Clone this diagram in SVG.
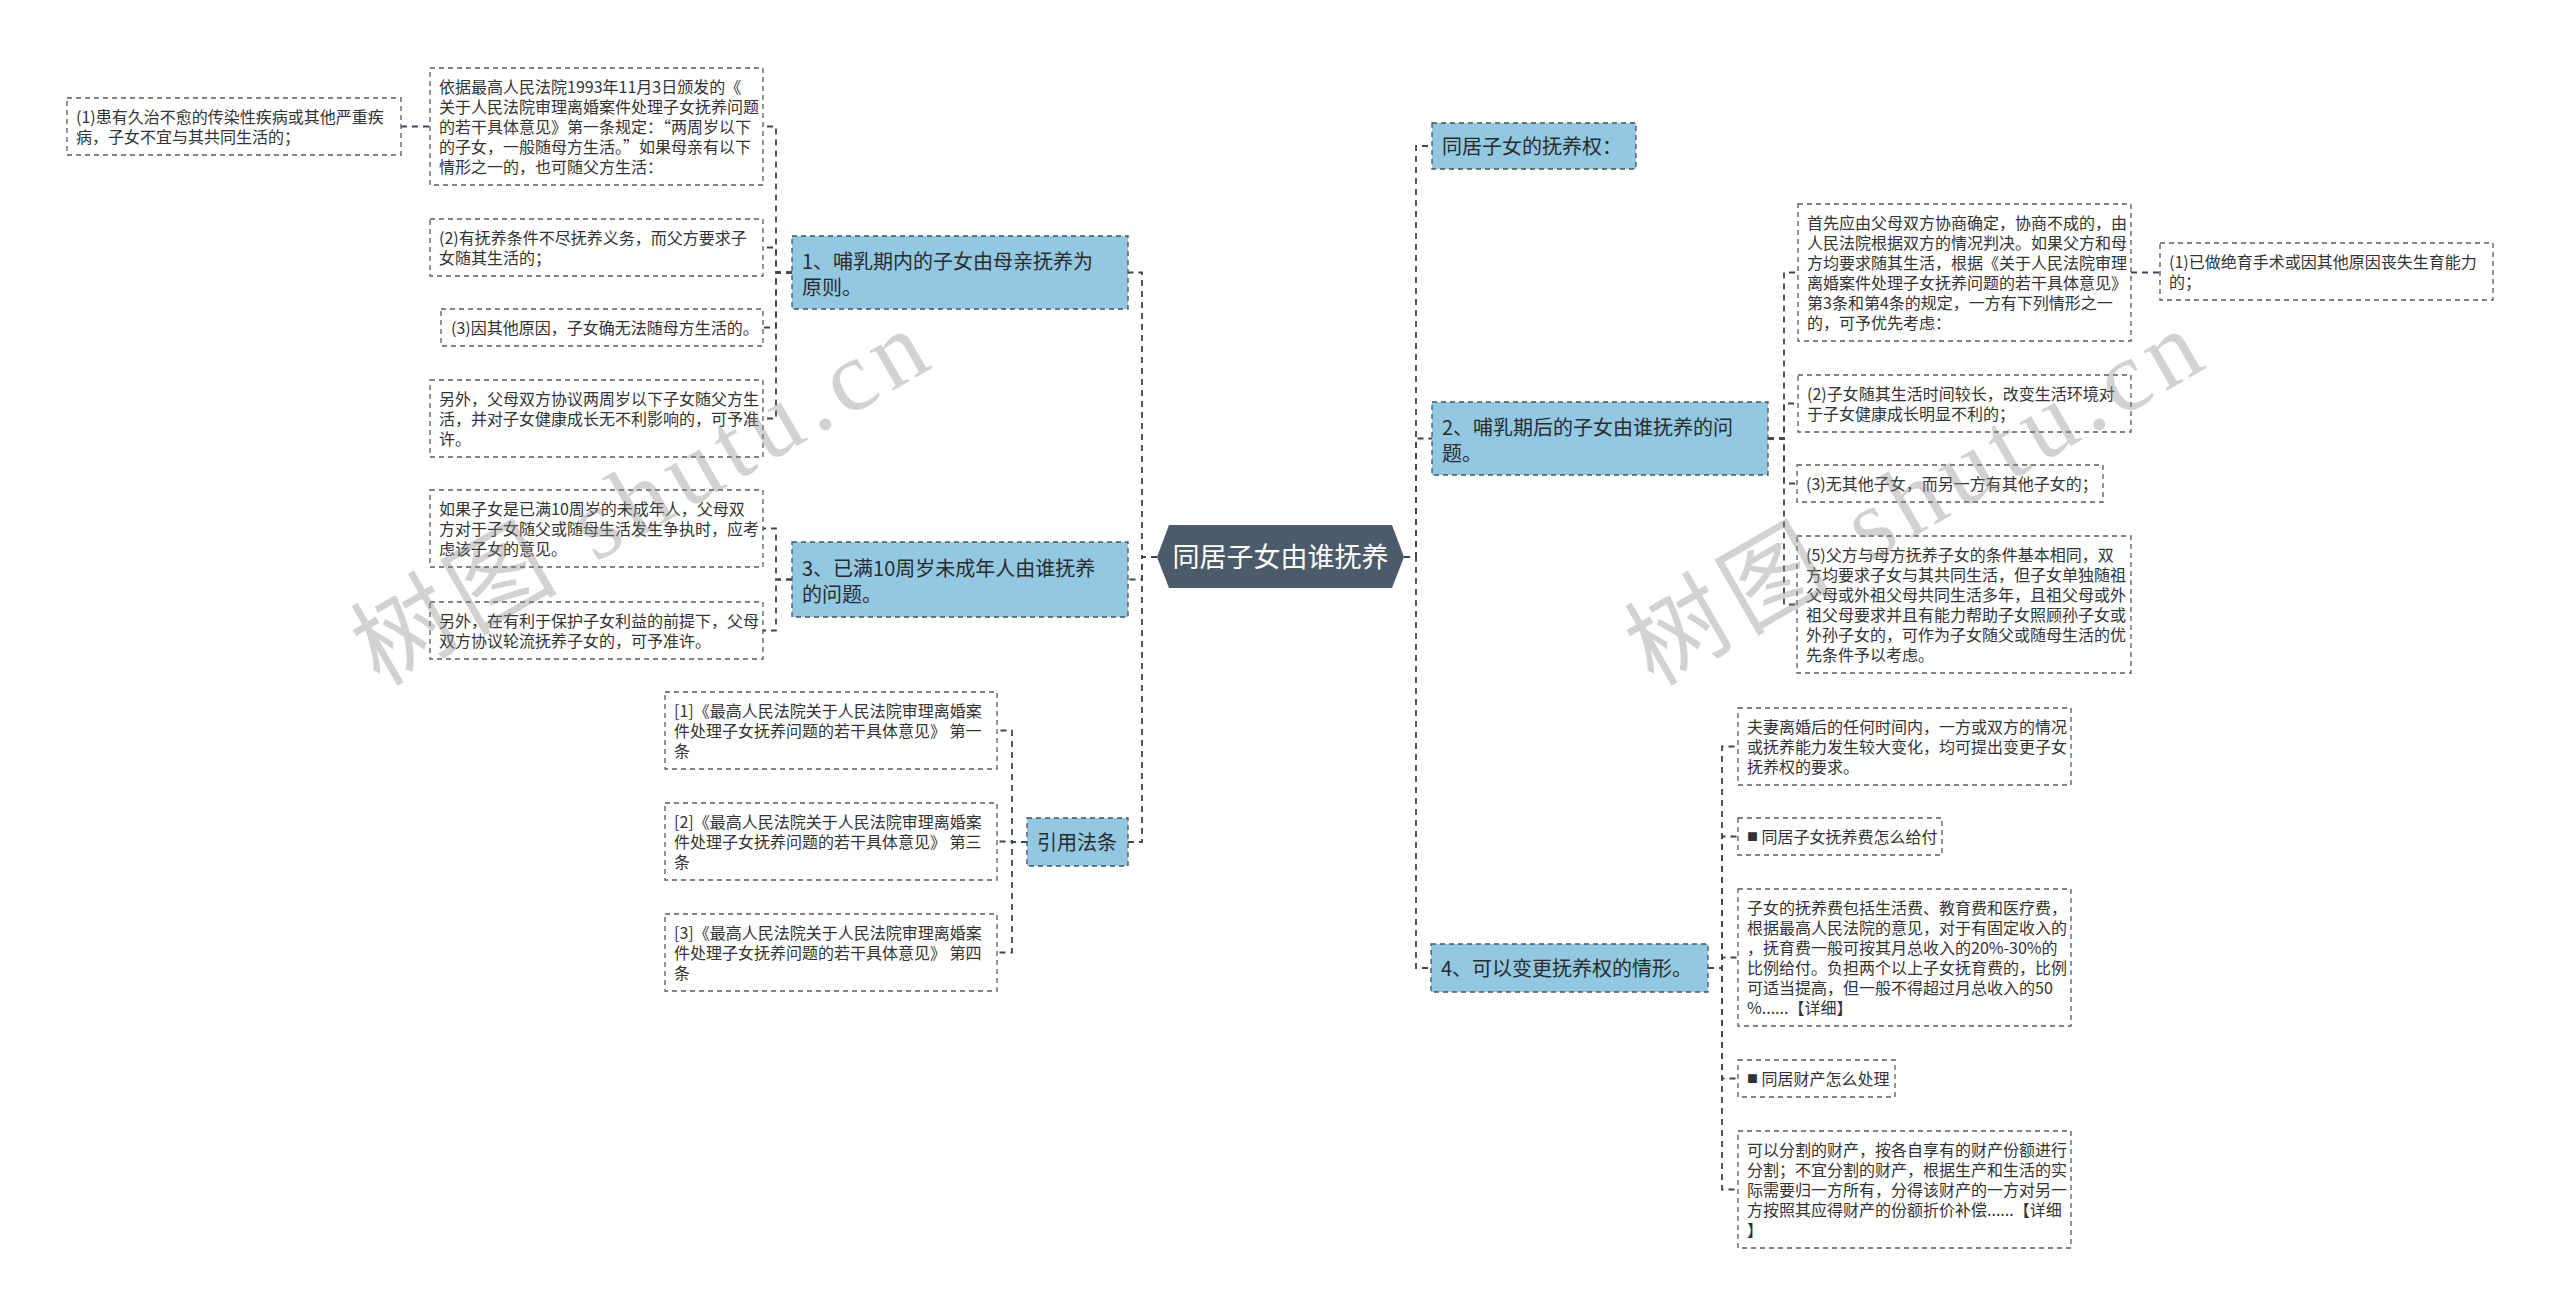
<svg xmlns="http://www.w3.org/2000/svg" width="2560" height="1316" viewBox="0 0 2560 1316">
<style>
.bg{fill:#ffffff}
.box{fill:#ffffff;stroke:#555b61;stroke-width:1.3;stroke-dasharray:5 4}
.main{fill:#92c8e2;stroke:#46525d;stroke-width:1.3;stroke-dasharray:5 4}
.root{fill:#4c5b69}
.t{font-family:"Noto Sans CJK SC","Liberation Sans",sans-serif;font-size:16px;fill:#333333}
.tm{font-family:"Noto Sans CJK SC","Liberation Sans",sans-serif;font-size:20px;fill:#2b2b2b}
.tr{font-family:"Noto Sans CJK SC","Liberation Sans",sans-serif;font-size:27px;fill:#ffffff}
.link{fill:none;stroke:#3d4752;stroke-width:1.8;stroke-dasharray:6 5}
.wm{font-family:"Liberation Serif","Noto Sans CJK SC",serif;font-size:100px;fill:#8a8a8a;opacity:0.38}
</style>
<rect class="bg" x="0" y="0" width="2560" height="1316"/>

<g id="connectors">
<path class="link" d="M1157 557 H1142 V272.5 H1128"/>
<path class="link" d="M1157 557 H1142 V579.5 H1128"/>
<path class="link" d="M1157 557 H1142 V842 H1128"/>
<path class="link" d="M1404 557 H1416 V146 H1432"/>
<path class="link" d="M1404 557 H1416 V438.5 H1432"/>
<path class="link" d="M1404 557 H1416 V968 H1431"/>
<path class="link" d="M792 272.5 H776 V126.5 H763"/>
<path class="link" d="M792 272.5 H776 V247.5 H763"/>
<path class="link" d="M792 272.5 H776 V327.5 H763"/>
<path class="link" d="M792 272.5 H776 V418.5 H763"/>
<path class="link" d="M429 126.5 H401"/>
<path class="link" d="M792 579.5 H776 V528.5 H763"/>
<path class="link" d="M792 579.5 H776 V630.5 H763"/>
<path class="link" d="M1027 842 H1012 V730.5 H997"/>
<path class="link" d="M1027 842 H1012 V841.5 H997"/>
<path class="link" d="M1027 842 H1012 V952.5 H997"/>
<path class="link" d="M1768 438.5 H1784 V272.5 H1798"/>
<path class="link" d="M1768 438.5 H1784 V403.5 H1798"/>
<path class="link" d="M1768 438.5 H1784 V483.5 H1797"/>
<path class="link" d="M1768 438.5 H1784 V604.5 H1797"/>
<path class="link" d="M2131 272.5 H2160"/>
<path class="link" d="M1708 968 H1722 V746.5 H1738"/>
<path class="link" d="M1708 968 H1722 V836.5 H1738"/>
<path class="link" d="M1708 968 H1722 V957.5 H1738"/>
<path class="link" d="M1708 968 H1722 V1078.5 H1738"/>
<path class="link" d="M1708 968 H1722 V1189.5 H1738"/>
</g>

<g id="root">
<polygon class="root" points="1157,557 1169,525 1392,525 1404,557 1392,588 1169,588"/>
<text class="tr" x="1280.5" y="566.5" text-anchor="middle">同居子女由谁抚养</text>
</g>

<g id="n1">
<rect class="main" x="792" y="236" width="336" height="73"/>
<text class="tm" x="802"><tspan x="802" y="269">1、哺乳期内的子女由母亲抚养为</tspan><tspan x="802" y="295">原则。</tspan></text>
</g>
<g id="n1a">
<rect class="box" x="430" y="68" width="333" height="117"/>
<text class="t"><tspan x="439" y="93">依据最高人民法院1993年11月3日颁发的《</tspan><tspan x="439" y="113">关于人民法院审理离婚案件处理子女抚养问题</tspan><tspan x="439" y="133">的若干具体意见》第一条规定：“两周岁以下</tspan><tspan x="439" y="153">的子女，一般随母方生活。”如果母亲有以下</tspan><tspan x="439" y="173">情形之一的，也可随父方生活：</tspan></text>
</g>
<g id="n1a1">
<rect class="box" x="67" y="98" width="334" height="57"/>
<text class="t"><tspan x="76" y="123">(1)患有久治不愈的传染性疾病或其他严重疾</tspan><tspan x="76" y="143">病，子女不宜与其共同生活的；</tspan></text>
</g>
<g id="n1b">
<rect class="box" x="430" y="219" width="333" height="57"/>
<text class="t"><tspan x="439" y="244">(2)有抚养条件不尽抚养义务，而父方要求子</tspan><tspan x="439" y="264">女随其生活的；</tspan></text>
</g>
<g id="n1c">
<rect class="box" x="441" y="309" width="322" height="37"/>
<text class="t" x="451" y="334">(3)因其他原因，子女确无法随母方生活的。</text>
</g>
<g id="n1d">
<rect class="box" x="430" y="380" width="333" height="77"/>
<text class="t"><tspan x="439" y="405">另外，父母双方协议两周岁以下子女随父方生</tspan><tspan x="439" y="425">活，并对子女健康成长无不利影响的，可予准</tspan><tspan x="439" y="445">许。</tspan></text>
</g>

<g id="n3">
<rect class="main" x="792" y="542" width="336" height="75"/>
<text class="tm"><tspan x="802" y="576">3、已满10周岁未成年人由谁抚养</tspan><tspan x="802" y="602">的问题。</tspan></text>
</g>
<g id="n3a">
<rect class="box" x="430" y="490" width="333" height="77"/>
<text class="t"><tspan x="439" y="515">如果子女是已满10周岁的未成年人，父母双</tspan><tspan x="439" y="535">方对于子女随父或随母生活发生争执时，应考</tspan><tspan x="439" y="555">虑该子女的意见。</tspan></text>
</g>
<g id="n3b">
<rect class="box" x="430" y="602" width="333" height="57"/>
<text class="t"><tspan x="439" y="627">另外，在有利于保护子女利益的前提下，父母</tspan><tspan x="439" y="647">双方协议轮流抚养子女的，可予准许。</tspan></text>
</g>

<g id="ref">
<rect class="main" x="1027" y="818" width="101" height="48"/>
<text class="tm" x="1037" y="850">引用法条</text>
</g>
<g id="ref1">
<rect class="box" x="665" y="692" width="332" height="77"/>
<text class="t"><tspan x="674" y="717">[1]《最高人民法院关于人民法院审理离婚案</tspan><tspan x="674" y="737">件处理子女抚养问题的若干具体意见》 第一</tspan><tspan x="674" y="757">条</tspan></text>
</g>
<g id="ref2">
<rect class="box" x="665" y="803" width="332" height="77"/>
<text class="t"><tspan x="674" y="828">[2]《最高人民法院关于人民法院审理离婚案</tspan><tspan x="674" y="848">件处理子女抚养问题的若干具体意见》 第三</tspan><tspan x="674" y="868">条</tspan></text>
</g>
<g id="ref3">
<rect class="box" x="665" y="914" width="332" height="77"/>
<text class="t"><tspan x="674" y="939">[3]《最高人民法院关于人民法院审理离婚案</tspan><tspan x="674" y="959">件处理子女抚养问题的若干具体意见》 第四</tspan><tspan x="674" y="979">条</tspan></text>
</g>

<g id="n0">
<rect class="main" x="1432" y="123" width="204" height="46"/>
<text class="tm" x="1442" y="154">同居子女的抚养权：</text>
</g>

<g id="n2">
<rect class="main" x="1432" y="402" width="336" height="73"/>
<text class="tm"><tspan x="1442" y="435">2、哺乳期后的子女由谁抚养的问</tspan><tspan x="1442" y="461">题。</tspan></text>
</g>
<g id="n2a">
<rect class="box" x="1798" y="204" width="333" height="137"/>
<text class="t"><tspan x="1807" y="229">首先应由父母双方协商确定，协商不成的，由</tspan><tspan x="1807" y="249">人民法院根据双方的情况判决。如果父方和母</tspan><tspan x="1807" y="269">方均要求随其生活，根据《关于人民法院审理</tspan><tspan x="1807" y="289">离婚案件处理子女抚养问题的若干具体意见》</tspan><tspan x="1807" y="309">第3条和第4条的规定，一方有下列情形之一</tspan><tspan x="1807" y="329">的，可予优先考虑：</tspan></text>
</g>
<g id="n2a1">
<rect class="box" x="2160" y="243" width="333" height="57"/>
<text class="t"><tspan x="2169" y="268">(1)已做绝育手术或因其他原因丧失生育能力</tspan><tspan x="2169" y="288">的；</tspan></text>
</g>
<g id="n2b">
<rect class="box" x="1798" y="375" width="333" height="57"/>
<text class="t"><tspan x="1807" y="400">(2)子女随其生活时间较长，改变生活环境对</tspan><tspan x="1807" y="420">于子女健康成长明显不利的；</tspan></text>
</g>
<g id="n2c">
<rect class="box" x="1797" y="465" width="306" height="37"/>
<text class="t" x="1806" y="490">(3)无其他子女，而另一方有其他子女的；</text>
</g>
<g id="n2d">
<rect class="box" x="1797" y="536" width="334" height="137"/>
<text class="t"><tspan x="1806" y="561">(5)父方与母方抚养子女的条件基本相同，双</tspan><tspan x="1806" y="581">方均要求子女与其共同生活，但子女单独随祖</tspan><tspan x="1806" y="601">父母或外祖父母共同生活多年，且祖父母或外</tspan><tspan x="1806" y="621">祖父母要求并且有能力帮助子女照顾孙子女或</tspan><tspan x="1806" y="641">外孙子女的，可作为子女随父或随母生活的优</tspan><tspan x="1806" y="661">先条件予以考虑。</tspan></text>
</g>

<g id="n4">
<rect class="main" x="1431" y="944" width="277" height="48"/>
<text class="tm" x="1441" y="976">4、可以变更抚养权的情形。</text>
</g>
<g id="n4a">
<rect class="box" x="1738" y="708" width="333" height="77"/>
<text class="t"><tspan x="1747" y="733">夫妻离婚后的任何时间内，一方或双方的情况</tspan><tspan x="1747" y="753">或抚养能力发生较大变化，均可提出变更子女</tspan><tspan x="1747" y="773">抚养权的要求。</tspan></text>
</g>
<g id="n4b">
<rect class="box" x="1738" y="818" width="204" height="37"/>
<text class="t" x="1747" y="843"><tspan font-size="11px" dy="-2">■</tspan><tspan dy="2"> 同居子女抚养费怎么给付</tspan></text>
</g>
<g id="n4c">
<rect class="box" x="1738" y="889" width="333" height="137"/>
<text class="t"><tspan x="1747" y="914">子女的抚养费包括生活费、教育费和医疗费，</tspan><tspan x="1747" y="934">根据最高人民法院的意见，对于有固定收入的</tspan><tspan x="1747" y="954">，抚育费一般可按其月总收入的20%-30%的</tspan><tspan x="1747" y="974">比例给付。负担两个以上子女抚育费的，比例</tspan><tspan x="1747" y="994">可适当提高，但一般不得超过月总收入的50</tspan><tspan x="1747" y="1014">%......【详细】</tspan></text>
</g>
<g id="n4d">
<rect class="box" x="1738" y="1060" width="157" height="37"/>
<text class="t" x="1747" y="1085"><tspan font-size="11px" dy="-2">■</tspan><tspan dy="2"> 同居财产怎么处理</tspan></text>
</g>
<g id="n4e">
<rect class="box" x="1738" y="1131" width="333" height="117"/>
<text class="t"><tspan x="1747" y="1156">可以分割的财产，按各自享有的财产份额进行</tspan><tspan x="1747" y="1176">分割；不宜分割的财产，根据生产和生活的实</tspan><tspan x="1747" y="1196">际需要归一方所有，分得该财产的一方对另一</tspan><tspan x="1747" y="1216">方按照其应得财产的份额折价补偿......【详细</tspan><tspan x="1747" y="1236">】</tspan></text>
</g>

<g id="watermark">
<text class="wm" x="640" y="498" text-anchor="middle" dominant-baseline="central" transform="rotate(-30 640 498)" textLength="640" lengthAdjust="spacing">树图 shutu.cn</text>
<text class="wm" x="1914" y="498" text-anchor="middle" dominant-baseline="central" transform="rotate(-30 1914 498)" textLength="640" lengthAdjust="spacing">树图 shutu.cn</text>
</g>
</svg>
